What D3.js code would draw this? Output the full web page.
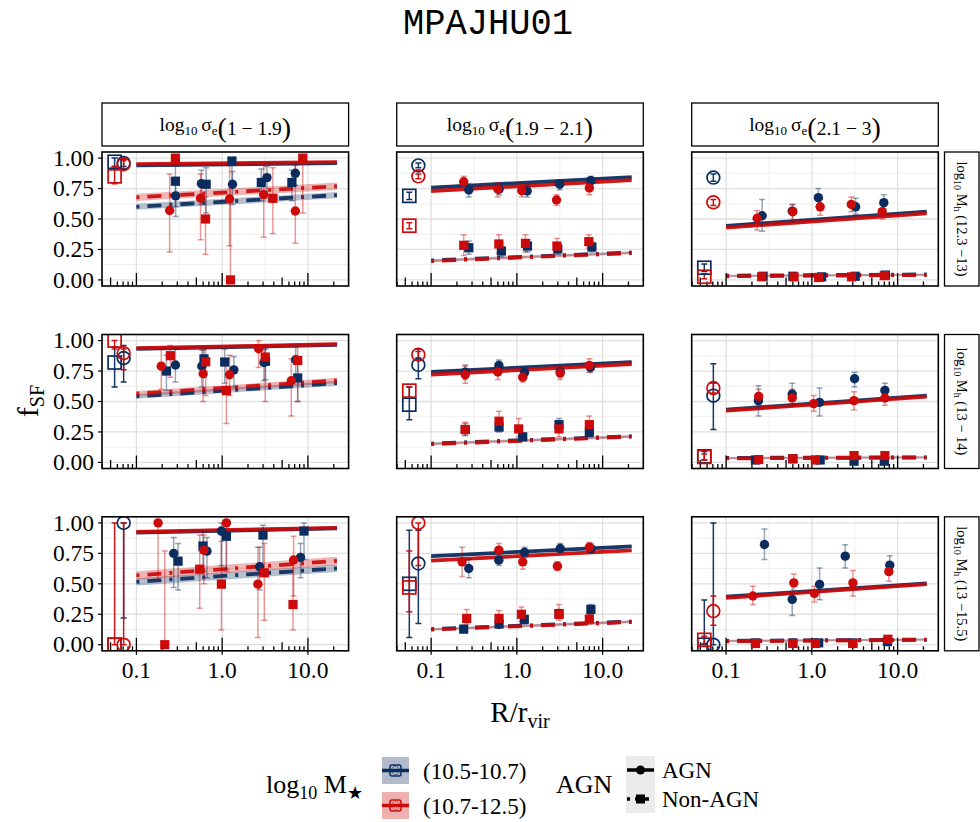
<!DOCTYPE html>
<html>
<head>
<meta charset="utf-8">
<script src="https://cdn.jsdelivr.net/npm/d3@7"></script>
<style>
  body { margin: 0; background: #fff; }
  svg { display: block; }
  text { font-family: "Liberation Serif", "DejaVu Serif", serif; fill: #000; }
</style>
</head>
<body>
<svg id="chart" width="980" height="822"></svg>
<script>
// ---- data -------------------------------------------------------------
const chartTitle = "MPAJHU01";
const sigmaBins = ["1 \u2212 1.9", "1.9 \u2212 2.1", "2.1 \u2212 3"];
const haloBins = ["12.3 \u221213", "13 \u2212 14", "13 \u221215.5"];
const massBins = ["(10.5-10.7)", "(10.7-12.5)"];
const agnLevels = ["AGN", "Non-AGN"];
const xTicks = [0.1, 1, 10];
const xTickLabels = ["0.1", "1.0", "10.0"];
const yTicks = [0, 0.25, 0.5, 0.75, 1];
const yTickLabels = ["0.00", "0.25", "0.50", "0.75", "1.00"];
const fitRange = [0.1, 21.8];          // radial range of the fitted trends
const centralR = [0.0557, 0.071];      // plotting radius of centrals: [Non-AGN, AGN]

// satellites hosting an AGN: [row, col, massBin, r/rvir, fSF, lower, upper]
const agnPoints = [
  [0,0,0,0.287,0.69,0.52,0.84],[0,0,1,0.244,0.57,0.23,0.87],
  [0,0,0,0.573,0.79,0.62,0.90],[0,0,1,0.56,0.67,0.33,0.87],
  [0,0,0,1.32,0.785,0.62,0.89],[0,0,1,1.22,0.664,0.28,0.94],
  [0,0,0,3.33,0.84,0.70,0.93],[0,0,1,3.05,0.70,0.35,0.94],
  [0,0,0,7.13,0.875,0.78,0.95],[0,0,1,7.13,0.566,0.30,0.94],

  [0,1,0,0.275,0.738,0.68,0.79],[0,1,1,0.24,0.806,0.76,0.85],
  [0,1,0,0.62,0.745,0.70,0.79],[0,1,1,0.60,0.744,0.68,0.80],
  [0,1,0,1.32,0.73,0.68,0.78],[0,1,1,1.14,0.732,0.68,0.78],
  [0,1,0,3.16,0.785,0.74,0.82],[0,1,1,2.9,0.656,0.61,0.70],
  [0,1,0,7.3,0.815,0.78,0.85],[0,1,1,7.0,0.755,0.70,0.81],

  [0,2,0,0.263,0.527,0.40,0.66],[0,2,1,0.23,0.506,0.41,0.57],
  [0,2,0,0.59,0.565,0.48,0.62],[0,2,1,0.60,0.56,0.49,0.62],
  [0,2,0,1.19,0.675,0.60,0.75],[0,2,1,1.25,0.60,0.53,0.66],
  [0,2,0,3.24,0.60,0.54,0.67],[0,2,1,2.88,0.62,0.56,0.68],
  [0,2,0,6.9,0.634,0.58,0.70],[0,2,1,6.6,0.56,0.50,0.62],

  [1,0,0,0.285,0.80,0.66,0.93],[1,0,1,0.195,0.79,0.60,0.95],
  [1,0,0,0.58,0.79,0.62,0.92],[1,0,1,0.60,0.728,0.50,0.93],
  [1,0,0,1.37,0.76,0.62,0.87],[1,0,1,1.22,0.72,0.55,0.88],
  [1,0,0,3.07,0.82,0.67,0.93],[1,0,1,2.66,0.933,0.78,1.0],
  [1,0,0,7.2,0.843,0.70,0.95],[1,0,1,6.4,0.67,0.38,0.85],

  [1,1,0,0.25,0.74,0.68,0.80],[1,1,1,0.25,0.72,0.65,0.79],
  [1,1,0,0.617,0.796,0.75,0.84],[1,1,1,0.60,0.742,0.68,0.80],
  [1,1,0,1.23,0.739,0.70,0.78],[1,1,1,1.17,0.70,0.66,0.74],
  [1,1,0,3.2,0.745,0.70,0.79],[1,1,1,3.2,0.734,0.68,0.79],
  [1,1,0,7.2,0.78,0.74,0.82],[1,1,1,7.0,0.796,0.74,0.85],

  [1,2,0,0.238,0.507,0.38,0.63],[1,2,1,0.24,0.542,0.47,0.60],
  [1,2,0,0.59,0.56,0.47,0.65],[1,2,1,0.59,0.53,0.48,0.60],
  [1,2,0,1.23,0.493,0.38,0.61],[1,2,1,1.05,0.482,0.42,0.55],
  [1,2,0,3.15,0.687,0.62,0.74],[1,2,1,3.1,0.507,0.43,0.58],
  [1,2,0,7.1,0.591,0.53,0.65],[1,2,1,7.1,0.529,0.47,0.59],

  [2,0,0,0.272,0.75,0.47,0.88],[2,0,1,0.179,1.0,0.54,1.0],
  [2,0,0,0.665,0.768,0.55,0.88],[2,0,1,0.61,0.776,0.50,0.90],
  [2,0,0,0.98,0.933,0.65,1.0],[2,0,1,1.12,1.0,0.60,1.0],
  [2,0,0,2.73,0.64,0.45,0.80],[2,0,1,2.61,0.497,0.06,0.80],
  [2,0,0,8.2,0.717,0.55,0.83],[2,0,1,6.8,0.695,0.40,0.89],

  [2,1,0,0.275,0.626,0.55,0.70],[2,1,1,0.23,0.68,0.56,0.80],
  [2,1,0,0.616,0.694,0.65,0.74],[2,1,1,0.616,0.776,0.72,0.83],
  [2,1,0,1.23,0.758,0.72,0.80],[2,1,1,1.17,0.68,0.62,0.74],
  [2,1,0,3.2,0.79,0.76,0.83],[2,1,1,2.97,0.645,0.61,0.68],
  [2,1,0,7.3,0.79,0.75,0.83],[2,1,1,7.0,0.80,0.76,0.84],

  [2,2,0,0.28,0.823,0.70,0.95],[2,2,1,0.205,0.40,0.33,0.48],
  [2,2,0,0.59,0.372,0.24,0.51],[2,2,1,0.616,0.508,0.43,0.58],
  [2,2,0,1.23,0.495,0.37,0.63],[2,2,1,1.07,0.421,0.35,0.48],
  [2,2,0,2.45,0.727,0.63,0.82],[2,2,1,3.01,0.508,0.40,0.61],
  [2,2,0,8.1,0.653,0.58,0.73],[2,2,1,7.9,0.60,0.52,0.66]
];

// satellites without an AGN: [row, col, massBin, r/rvir, fSF, lower, upper]
const nonAgnPoints = [
  [0,0,0,0.285,0.81,0.60,0.94],[0,0,1,0.285,1.0,1.0,1.0],
  [0,0,0,0.65,0.785,0.55,0.92],[0,0,1,0.64,0.50,0.21,0.68],
  [0,0,0,1.30,0.976,0.80,1.0],[0,0,1,1.25,0.0,0.0,0.75],
  [0,0,0,2.86,0.80,0.65,0.91],[0,0,1,3.9,0.67,0.38,0.92],
  [0,0,0,6.5,0.80,0.65,0.90],[0,0,1,8.7,1.0,0.55,1.0],

  [0,1,0,0.275,0.264,0.21,0.32],[0,1,1,0.24,0.284,0.20,0.37],
  [0,1,0,0.66,0.237,0.19,0.29],[0,1,1,0.616,0.295,0.22,0.37],
  [0,1,0,1.33,0.278,0.23,0.33],[0,1,1,1.26,0.30,0.23,0.37],
  [0,1,0,3.0,0.254,0.21,0.30],[0,1,1,2.93,0.278,0.22,0.34],
  [0,1,0,7.5,0.27,0.23,0.31],[0,1,1,6.9,0.314,0.26,0.37],

  [0,2,0,0.27,0.03,0.015,0.045],[0,2,1,0.26,0.026,0.01,0.04],
  [0,2,0,0.6,0.03,0.015,0.045],[0,2,1,0.62,0.025,0.01,0.04],
  [0,2,0,1.3,0.025,0.01,0.04],[0,2,1,1.2,0.02,0.005,0.035],
  [0,2,0,3.2,0.03,0.015,0.045],[0,2,1,2.9,0.025,0.01,0.04],
  [0,2,0,7.2,0.04,0.02,0.06],[0,2,1,7.0,0.035,0.02,0.05],

  [1,0,0,0.224,0.75,0.59,0.88],[1,0,1,0.249,0.876,0.70,0.96],
  [1,0,0,0.614,0.85,0.70,0.93],[1,0,1,0.643,0.826,0.55,0.95],
  [1,0,0,1.07,0.824,0.65,0.93],[1,0,1,1.12,0.589,0.32,0.85],
  [1,0,0,3.2,0.83,0.68,0.93],[1,0,1,3.18,0.865,0.50,0.95],
  [1,0,0,7.6,0.693,0.50,0.85],[1,0,1,7.6,0.837,0.50,0.96],

  [1,1,0,0.25,0.27,0.22,0.32],[1,1,1,0.25,0.27,0.22,0.33],
  [1,1,0,0.62,0.29,0.25,0.33],[1,1,1,0.62,0.338,0.28,0.42],
  [1,1,0,1.17,0.21,0.18,0.24],[1,1,1,1.05,0.275,0.21,0.36],
  [1,1,0,3.1,0.31,0.26,0.36],[1,1,1,3.1,0.275,0.21,0.34],
  [1,1,0,7.0,0.247,0.21,0.29],[1,1,1,7.0,0.31,0.25,0.38],

  [1,2,0,0.22,0.02,0.0,0.04],[1,2,1,0.24,0.023,0.005,0.04],
  [1,2,0,0.6,0.03,0.01,0.05],[1,2,1,0.6,0.03,0.01,0.05],
  [1,2,0,1.25,0.02,0.0,0.04],[1,2,1,1.1,0.02,0.0,0.04],
  [1,2,0,3.1,0.01,0.0,0.03],[1,2,1,3.1,0.056,0.03,0.08],
  [1,2,0,7.0,0.01,0.0,0.03],[1,2,1,7.1,0.056,0.03,0.08],

  [2,0,0,0.306,0.686,0.45,0.83],[2,0,1,0.214,0.0,0.0,0.77],
  [2,0,0,0.597,0.81,0.60,0.93],[2,0,1,0.547,0.62,0.30,0.90],
  [2,0,0,1.12,0.89,0.62,0.98],[2,0,1,0.98,0.497,0.12,0.85],
  [2,0,0,2.99,0.90,0.60,0.98],[2,0,1,3.1,0.59,0.20,0.83],
  [2,0,0,9.0,0.933,0.70,1.0],[2,0,1,6.7,0.33,0.12,0.70],

  [2,1,0,0.24,0.128,0.10,0.16],[2,1,1,0.26,0.216,0.17,0.29],
  [2,1,0,0.62,0.17,0.14,0.20],[2,1,1,0.62,0.216,0.16,0.28],
  [2,1,0,1.22,0.208,0.17,0.24],[2,1,1,1.13,0.25,0.19,0.31],
  [2,1,0,3.1,0.255,0.22,0.29],[2,1,1,3.1,0.249,0.20,0.33],
  [2,1,0,7.3,0.29,0.25,0.33],[2,1,1,7.0,0.21,0.17,0.25],

  [2,2,0,0.22,0.015,0.0,0.03],[2,2,1,0.22,0.01,0.0,0.025],
  [2,2,0,0.6,0.015,0.0,0.03],[2,2,1,0.6,0.01,0.0,0.025],
  [2,2,0,1.2,0.015,0.0,0.03],[2,2,1,1.1,0.01,0.0,0.025],
  [2,2,0,3.0,0.015,0.0,0.03],[2,2,1,3.0,0.01,0.0,0.025],
  [2,2,0,7.6,0.025,0.01,0.04],[2,2,1,7.7,0.045,0.03,0.06]
];

// central galaxies: [row, col, massBin, isAGN, fSF, lower, upper]
const centralPoints = [
  [0,0,0,0,0.97,0.93,1.0],[0,0,0,1,0.96,0.93,0.99],[0,0,1,1,0.95,0.91,0.98],[0,0,1,0,0.85,0.79,0.93],
  [0,1,0,1,0.94,0.92,0.96],[0,1,1,1,0.85,0.83,0.87],[0,1,0,0,0.69,0.66,0.72],[0,1,1,0,0.445,0.42,0.47],
  [0,2,0,1,0.84,0.81,0.87],[0,2,1,1,0.637,0.61,0.66],[0,2,0,0,0.10,0.07,0.13],[0,2,1,0,0.026,0.01,0.05],
  [1,0,1,0,1.0,0.93,1.0],[1,0,0,0,0.82,0.62,0.95],[1,0,0,1,0.857,0.66,0.96],[1,0,1,1,0.897,0.76,0.93],
  [1,1,1,1,0.884,0.86,0.91],[1,1,0,1,0.80,0.686,0.93],[1,1,1,0,0.589,0.53,0.62],[1,1,0,0,0.474,0.35,0.62],
  [1,2,0,1,0.548,0.27,0.81],[1,2,1,1,0.61,0.57,0.65],[1,2,0,0,0.05,0.02,0.09],[1,2,1,0,0.045,0.02,0.07],
  [2,0,0,1,1.0,0.22,1.0],[2,0,1,1,0.0,0.0,1.0],[2,0,1,0,0.0,0.0,1.0],[2,0,0,0,0.0,0.0,0.0],
  [2,1,1,1,1.0,0.65,1.0],[2,1,0,1,0.667,0.175,0.94],[2,1,0,0,0.50,0.06,0.94],[2,1,1,0,0.47,0.27,0.77],
  [2,2,0,1,0.0,0.0,1.0],[2,2,1,1,0.276,0.16,0.40],[2,2,0,0,0.0,0.0,0.366],[2,2,1,0,0.04,0.01,0.07]
];

// fitted trends, value at each end of fitRange: [row, col, massBin, fStart, fEnd, halfBand]
const agnFits = [
  [0,0,0,0.94,0.958,0.012],[0,0,1,0.95,0.967,0.012],
  [0,1,0,0.757,0.844,0.012],[0,1,1,0.73,0.819,0.012],
  [0,2,0,0.443,0.56,0.012],[0,2,1,0.43,0.546,0.012],
  [1,0,0,0.932,0.965,0.012],[1,0,1,0.938,0.97,0.012],
  [1,1,0,0.742,0.824,0.012],[1,1,1,0.72,0.808,0.012],
  [1,2,0,0.433,0.548,0.012],[1,2,1,0.425,0.54,0.012],
  [2,0,0,0.92,0.955,0.012],[2,0,1,0.927,0.959,0.012],
  [2,1,0,0.727,0.807,0.012],[2,1,1,0.69,0.775,0.012],
  [2,2,0,0.394,0.503,0.012],[2,2,1,0.385,0.497,0.012]
];
const nonAgnFits = [
  [0,0,0,0.60,0.696,0.025],[0,0,1,0.678,0.769,0.03],
  [0,1,0,0.16,0.225,0.01],[0,1,1,0.155,0.22,0.01],
  [0,2,0,0.035,0.045,0.008],[0,2,1,0.03,0.04,0.008],
  [1,0,0,0.542,0.65,0.02],[1,0,1,0.564,0.672,0.022],
  [1,1,0,0.155,0.215,0.01],[1,1,1,0.15,0.211,0.01],
  [1,2,0,0.037,0.042,0.008],[1,2,1,0.033,0.04,0.008],
  [2,0,0,0.516,0.627,0.03],[2,0,1,0.569,0.688,0.035],
  [2,1,0,0.128,0.19,0.01],[2,1,1,0.124,0.186,0.01],
  [2,2,0,0.032,0.042,0.008],[2,2,1,0.028,0.04,0.008]
];

// ---- layout & style ---------------------------------------------------
const NAVY = "#0b2c5e", RED = "#cc0a0a";
const colours = [NAVY, RED];
const colX = [102, 396.7, 691.7];
const rowY = [152, 334.5, 516.8];
const PW = 246.6, PH = 134;
const DOTDASH = "3,8,14,8";

const svg = d3.select("#chart");
const x = d3.scaleLog().domain([0.0397, 29.8]).range([0, PW]);
const y = d3.scaleLinear().domain([-0.05, 1.05]).range([PH, 0]);

// title
svg.append("text")
  .attr("x", 488).attr("y", 34)
  .attr("text-anchor", "middle")
  .attr("textLength", 170).attr("lengthAdjust", "spacingAndGlyphs")
  .style("font-family", "'Liberation Mono', 'DejaVu Sans Mono', monospace")
  .style("font-size", "36px")
  .text(chartTitle);

const defs = svg.append("defs");
defs.append("clipPath").attr("id", "panelClip")
  .append("rect").attr("width", PW).attr("height", PH);

// geometric mid-points between the major radial breaks
const xMinor = d3.pairs(xTicks).map(([a, b]) => Math.sqrt(a * b));
const yMinor = d3.pairs(yTicks).map(([a, b]) => (a + b) / 2);

// log tick positions along the bottom of each panel
const logTicks = [];
[-2, -1, 0, 1, 2].forEach(e => {
  for (let k = 1; k <= 9; k++) {
    const v = k * Math.pow(10, e);
    if (v >= x.domain()[0] && v <= x.domain()[1]) logTicks.push({ v, k });
  }
});

const fitLine = d3.line().x(d => x(d[0])).y(d => y(d[1]));
const fitBand = d3.area().x(d => x(d[0])).y0(d => y(d[1] - d[2])).y1(d => y(d[1] + d[2]));

for (let r = 0; r < 3; r++) {
  for (let c = 0; c < 3; c++) {
    const g = svg.append("g").attr("transform", `translate(${colX[c]},${rowY[r]})`);
    g.append("rect").attr("width", PW).attr("height", PH).attr("fill", "#fff");
    const inner = g.append("g").attr("clip-path", "url(#panelClip)");

    // grid
    inner.selectAll(".ymin").data(yMinor).join("line")
      .attr("x1", 0).attr("x2", PW).attr("y1", d => y(d)).attr("y2", d => y(d))
      .attr("stroke", "#ececec").attr("stroke-width", 0.9);
    inner.selectAll(".xmin").data(xMinor).join("line")
      .attr("y1", 0).attr("y2", PH).attr("x1", d => x(d)).attr("x2", d => x(d))
      .attr("stroke", "#ececec").attr("stroke-width", 0.9);
    inner.selectAll(".ymaj").data(yTicks).join("line")
      .attr("x1", 0).attr("x2", PW).attr("y1", d => y(d)).attr("y2", d => y(d))
      .attr("stroke", "#e0e0e0").attr("stroke-width", 1.3);
    inner.selectAll(".xmaj").data(xTicks).join("line")
      .attr("y1", 0).attr("y2", PH).attr("x1", d => x(d)).attr("x2", d => x(d))
      .attr("stroke", "#e0e0e0").attr("stroke-width", 1.3);

    // fitted trends with their confidence bands
    const here = d => d[0] === r && d[1] === c;
    const fitSets = [[nonAgnFits, DOTDASH], [agnFits, null]];
    fitSets.forEach(([fits]) => {
      fits.filter(here).forEach(f => {
        const pts = [[fitRange[0], f[3], f[5]], [fitRange[1], f[4], f[5]]];
        inner.append("path").attr("d", fitBand(pts))
          .attr("fill", colours[f[2]]).attr("fill-opacity", 0.3);
      });
    });
    fitSets.forEach(([fits, dash]) => {
      fits.filter(here).forEach(f => {
        const pts = [[fitRange[0], f[3]], [fitRange[1], f[4]]];
        inner.append("path").attr("d", fitLine(pts))
          .attr("fill", "none").attr("stroke", colours[f[2]])
          .attr("stroke-width", 3.8).attr("stroke-opacity", 0.92)
          .attr("stroke-dasharray", dash);
      });
    });

    // log ticks
    inner.selectAll(".lt").data(logTicks).join("line")
      .attr("x1", d => x(d.v)).attr("x2", d => x(d.v))
      .attr("y1", PH)
      .attr("y2", d => PH - (d.k === 1 ? 13 : d.k === 5 ? 8.5 : 4.5))
      .attr("stroke", "#000").attr("stroke-width", 1.3);

    // error bars
    const bar = (sel, px, lo, hi, col, op) => {
      const gg = sel.append("g").attr("stroke", col).attr("stroke-opacity", op)
        .attr("stroke-width", 1.5);
      gg.append("line").attr("x1", px).attr("x2", px).attr("y1", y(lo)).attr("y2", y(hi));
      gg.append("line").attr("x1", px - 3).attr("x2", px + 3).attr("y1", y(lo)).attr("y2", y(lo));
      gg.append("line").attr("x1", px - 3).attr("x2", px + 3).attr("y1", y(hi)).attr("y2", y(hi));
    };
    [0, 1].forEach(m => {
      agnPoints.concat(nonAgnPoints).filter(d => here(d) && d[2] === m).forEach(d => {
        if (d[6] > d[5]) bar(inner, x(d[3]), d[5], d[6], colours[m], 0.42);
      });
    });
    [0, 1].forEach(m => {
      centralPoints.filter(d => here(d) && d[2] === m).forEach(d => {
        if (d[6] > d[5]) bar(inner, x(centralR[d[3]]), d[5], d[6], colours[m], 0.95);
      });
    });

    // satellite points
    [0, 1].forEach(m => {
      nonAgnPoints.filter(d => here(d) && d[2] === m).forEach(d => {
        inner.append("rect")
          .attr("x", x(d[3]) - 4.6).attr("y", y(d[4]) - 4.6)
          .attr("width", 9.2).attr("height", 9.2).attr("fill", colours[m]);
      });
      agnPoints.filter(d => here(d) && d[2] === m).forEach(d => {
        inner.append("circle")
          .attr("cx", x(d[3])).attr("cy", y(d[4])).attr("r", 4.7).attr("fill", colours[m]);
      });
    });

    // central galaxies (open symbols)
    [0, 1].forEach(m => {
      centralPoints.filter(d => here(d) && d[2] === m).forEach(d => {
        const px = x(centralR[d[3]]), py = y(d[4]);
        if (d[3] === 1) {
          inner.append("circle").attr("cx", px).attr("cy", py).attr("r", 6.4)
            .attr("fill", "none").attr("stroke", colours[m]).attr("stroke-width", 1.7);
        } else {
          inner.append("rect").attr("x", px - 6.5).attr("y", py - 6.5)
            .attr("width", 13).attr("height", 13)
            .attr("fill", "none").attr("stroke", colours[m]).attr("stroke-width", 1.7);
        }
      });
    });

    // panel border
    g.append("rect").attr("width", PW).attr("height", PH)
      .attr("fill", "none").attr("stroke", "#000").attr("stroke-width", 1.6);

    // y axis on the first column
    if (c === 0) {
      yTicks.forEach((t, i) => {
        g.append("line").attr("x1", -4).attr("x2", 0).attr("y1", y(t)).attr("y2", y(t))
          .attr("stroke", "#000").attr("stroke-width", 1.2);
        g.append("text").attr("x", -8).attr("y", y(t)).attr("dy", "0.33em")
          .attr("text-anchor", "end").style("font-size", "23.5px").text(yTickLabels[i]);
      });
    }
    // x axis on the bottom row
    if (r === 2) {
      xTicks.forEach((t, i) => {
        g.append("line").attr("x1", x(t)).attr("x2", x(t)).attr("y1", PH).attr("y2", PH + 4)
          .attr("stroke", "#000").attr("stroke-width", 1.2);
        g.append("text").attr("x", x(t)).attr("y", PH + 27)
          .attr("text-anchor", "middle").style("font-size", "23.5px").text(xTickLabels[i]);
      });
    }
  }
}

// column strips: velocity dispersion bins
sigmaBins.forEach((lab, c) => {
  svg.append("rect").attr("x", colX[c]).attr("y", 103).attr("width", PW).attr("height", 43)
    .attr("fill", "#fff").attr("stroke", "#000").attr("stroke-width", 1.3);
  const t = svg.append("text").attr("x", colX[c] + PW / 2).attr("y", 131)
    .attr("text-anchor", "middle").style("font-size", "19.5px");
  t.append("tspan").text("log");
  t.append("tspan").attr("dy", 4).style("font-size", "13px").text("10");
  t.append("tspan").attr("dy", -4).text("\u2009\u03c3");
  t.append("tspan").attr("dy", 4).style("font-size", "13px").text("e");
  t.append("tspan").attr("dy", 2).style("font-size", "28px").text("(");
  t.append("tspan").attr("dy", -2).text(lab);
  t.append("tspan").attr("dy", 2).style("font-size", "28px").text(")");
});

// row strips: halo mass bins
haloBins.forEach((lab, r) => {
  svg.append("rect").attr("x", 944.5).attr("y", rowY[r]).attr("width", 34.5).attr("height", PH)
    .attr("fill", "#fff").attr("stroke", "#000").attr("stroke-width", 1.3);
  const t = svg.append("text")
    .attr("transform", `translate(957,${rowY[r] + PH / 2}) rotate(90)`)
    .attr("text-anchor", "middle").style("font-size", "14.5px");
  t.append("tspan").text("log");
  t.append("tspan").attr("dy", 3).style("font-size", "10px").text("10");
  t.append("tspan").attr("dy", -3).text(" M");
  t.append("tspan").attr("dy", 3).style("font-size", "10px").text("h");
  t.append("tspan").attr("dy", -3).text(" (" + lab + ")");
});

// axis titles
const xt = svg.append("text").attr("x", 520).attr("y", 722)
  .attr("text-anchor", "middle").style("font-size", "29px");
xt.append("tspan").text("R/r");
xt.append("tspan").attr("dy", 6).style("font-size", "20px").text("vir");

const yt = svg.append("text").attr("transform", "translate(38,401) rotate(-90)")
  .attr("text-anchor", "middle").style("font-size", "30px");
yt.append("tspan").text("f");
yt.append("tspan").attr("dy", 6).style("font-size", "20px").text("SF");

// ---- legends ----------------------------------------------------------
const lt = svg.append("text").attr("x", 266).attr("y", 793).style("font-size", "26px");
lt.append("tspan").text("log");
lt.append("tspan").attr("dy", 6).style("font-size", "18px").text("10");
lt.append("tspan").attr("dy", -6).text(" M");
lt.append("tspan").attr("dy", 6).style("font-size", "18px").text("\u2605");

const keyY = [757, 792];
massBins.forEach((lab, i) => {
  const ky = keyY[i], kx = 382, ks = 27, col = colours[i];
  svg.append("rect").attr("x", kx).attr("y", ky).attr("width", ks).attr("height", ks)
    .attr("fill", col).attr("fill-opacity", 0.32);
  svg.append("line").attr("x1", kx).attr("x2", kx + ks).attr("y1", ky + ks / 2).attr("y2", ky + ks / 2)
    .attr("stroke", col).attr("stroke-width", 3.5);
  svg.append("rect").attr("x", kx + ks / 2 - 5.5).attr("y", ky + ks / 2 - 5.5)
    .attr("width", 11).attr("height", 11).attr("rx", 2)
    .attr("fill", "none").attr("stroke", col).attr("stroke-width", 1.5);
  svg.append("circle").attr("cx", kx + ks / 2).attr("cy", ky + ks / 2).attr("r", 4)
    .attr("fill", "none").attr("stroke", col).attr("stroke-width", 1).attr("stroke-dasharray", "1.5,1");
  svg.append("text").attr("x", 423).attr("y", ky + 22).style("font-size", "23px").text(lab);
});

svg.append("text").attr("x", 556).attr("y", 793).style("font-size", "26px").text("AGN");
svg.append("rect").attr("x", 626).attr("y", 756).attr("width", 29).attr("height", 57).attr("fill", "#ebebeb");
const lineKeyY = [770, 799];
agnLevels.forEach((lab, i) => {
  const ky = lineKeyY[i];
  svg.append("line").attr("x1", 627).attr("x2", 654).attr("y1", ky).attr("y2", ky)
    .attr("stroke", "#000").attr("stroke-width", 3.5)
    .attr("stroke-dasharray", i === 1 ? "3,5,14,5" : null);
  if (i === 0) {
    svg.append("circle").attr("cx", 640.5).attr("cy", ky).attr("r", 4.5).attr("fill", "#000");
  } else {
    svg.append("rect").attr("x", 636).attr("y", ky - 4.5).attr("width", 9).attr("height", 9).attr("fill", "#000");
  }
  svg.append("text").attr("x", 662).attr("y", ky + 8).style("font-size", "23px").text(lab);
});
</script>
</body>
</html>
